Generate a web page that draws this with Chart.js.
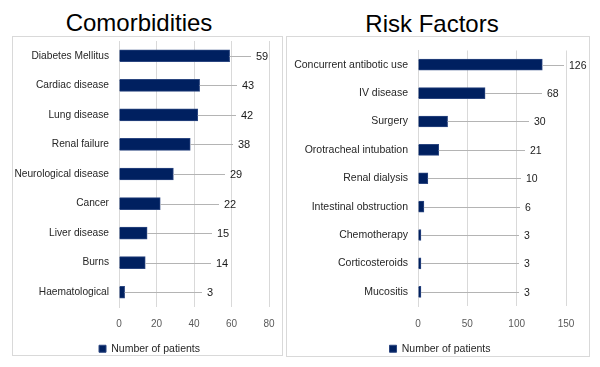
<!DOCTYPE html>
<html>
<head>
<meta charset="utf-8">
<script src="https://cdn.jsdelivr.net/npm/chart.js@4.4.1/dist/chart.umd.min.js"></script>
<style>
  html, body { margin: 0; padding: 0; background: #fff; }
  body { width: 600px; height: 367px; position: relative; overflow: hidden; font-family: "Liberation Sans", Arial, sans-serif; }
  .title { position: absolute; width: 200px; text-align: center; font-size: 24px; line-height: 24px; color: #000; }
  .box { position: absolute; border: 1px solid #d9d9d9; box-sizing: border-box; }
  .box canvas { position: absolute; left: 0; top: 0; }
</style>
</head>
<body>
<div class="title" style="left:39px; top:11px;">Comorbidities</div>
<div class="title" style="left:332px; top:12px;">Risk Factors</div>
<div class="box" style="left:12px; top:36px; width:271px; height:320px;"><canvas id="c1" width="269" height="318"></canvas></div>
<div class="box" style="left:286px; top:36px; width:304px; height:321px;"><canvas id="c2" width="302" height="319"></canvas></div>
<script>
// ---- data ----
const seriesLabel = 'Number of patients';
const comorbCategories = ['Diabetes Mellitus', 'Cardiac disease', 'Lung disease', 'Renal failure', 'Neurological disease', 'Cancer', 'Liver disease', 'Burns', 'Haematological'];
const comorbValues = [59, 43, 42, 38, 29, 22, 15, 14, 3];
const comorbAxisMax = 80;
const comorbAxisStep = 20;

const riskCategories = ['Concurrent antibotic use', 'IV disease', 'Surgery', 'Orotracheal intubation', 'Renal dialysis', 'Intestinal obstruction', 'Chemotherapy', 'Corticosteroids', 'Mucositis'];
const riskValues = [126, 68, 30, 21, 10, 6, 3, 3, 3];
const riskAxisMax = 150;
const riskAxisStep = 50;

// ---- leader-line data labels ----
const leaderPlugin = {
  id: 'leader',
  afterDatasetsDraw(chart, args, opts) {
    const ctx = chart.ctx;
    const xs = chart.scales.x;
    const meta = chart.getDatasetMeta(0);
    const data = chart.data.datasets[0].data;
    ctx.save();
    ctx.font = opts.font;
    ctx.textBaseline = 'middle';
    ctx.textAlign = 'left';
    meta.data.forEach((bar, i) => {
      const v = data[i];
      const lx = Math.round(xs.getPixelForValue(opts.base + opts.slope * v));
      const y = Math.round(bar.y) + 0.5;
      ctx.strokeStyle = '#b4b4b4';
      ctx.lineWidth = 1;
      ctx.beginPath();
      ctx.moveTo(bar.x, y);
      ctx.lineTo(lx - opts.gap, y);
      ctx.stroke();
      ctx.fillStyle = '#1a1a1a';
      ctx.fillText(String(v), lx, bar.y + 1);
    });
    ctx.restore();
  }
};

// shifts the bottom legend sideways (the legend in the original is centred on a different point)
const legendShift = {
  id: 'legendShift',
  afterLayout(chart, args, opts) {
    const lg = chart.legend;
    if (lg) { lg.left += opts.dx; lg.right += opts.dx; }
  }
};

function makeChart(id, cats, vals, max, step, cfg) {
  return new Chart(document.getElementById(id), {
    type: 'bar',
    data: {
      labels: cats,
      datasets: [{
        label: seriesLabel,
        data: vals,
        backgroundColor: '#002060',
        borderColor: '#2b4680',
        borderWidth: 1,
        barThickness: cfg.barThickness
      }]
    },
    options: {
      indexAxis: 'y',
      responsive: false,
      animation: false,
      devicePixelRatio: 1,
      layout: { padding: { left: 0, right: cfg.padRight, top: cfg.padTop, bottom: cfg.padBottom } },
      scales: {
        x: {
          min: 0, max: max,
          ticks: { stepSize: step, color: '#595959', font: { family: 'Liberation Sans', size: 10 }, padding: cfg.tickPad },
          grid: { color: '#d9d9d9', drawTicks: false },
          border: { display: false },
          afterFit(scale) { scale.height = cfg.xHeight; scale.paddingLeft = 0; scale.paddingRight = 0; }
        },
        y: {
          ticks: { color: '#262626', font: { family: 'Liberation Sans', size: cfg.catFont }, padding: cfg.yPad },
          grid: { display: false, drawTicks: false },
          border: { color: '#d9d9d9' },
          afterFit(scale) { scale.width = cfg.yWidth; scale.paddingTop = 0; scale.paddingBottom = 0; }
        }
      },
      plugins: {
        legend: {
          position: 'bottom',
          labels: { boxWidth: 7, boxHeight: 7, color: '#262626', font: { family: 'Liberation Sans', size: 10.5 }, padding: 8 }
        },
        tooltip: { enabled: false },
        leader: { base: cfg.labelBase, slope: cfg.labelSlope, gap: 5, font: cfg.valueFont },
        legendShift: { dx: cfg.legendDx }
      }
    },
    plugins: [leaderPlugin, legendShift]
  });
}

makeChart('c1', comorbCategories, comorbValues, comorbAxisMax, comorbAxisStep, {
  barThickness: 12, padRight: 13, padTop: 4, padBottom: -9, tickPad: 11, xHeight: 28.5, yPad: 10, yWidth: 106,
  labelBase: 45.3, labelSlope: 0.475, legendDx: 8.5, catFont: 10.2, valueFont: '11px "Liberation Sans"'
});
makeChart('c2', riskCategories, riskValues, riskAxisMax, riskAxisStep, {
  barThickness: 11, padRight: 23, padTop: 13.5, padBottom: -8, tickPad: 12, xHeight: 29.5, yPad: 10, yWidth: 131,
  labelBase: 106, labelSlope: 0.37, legendDx: 13.5, catFont: 10.5, valueFont: '10.5px "Liberation Sans"'
});
</script>
</body>
</html>
